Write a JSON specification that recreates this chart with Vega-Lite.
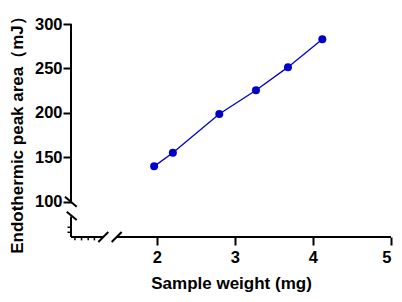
{
  "$schema": "https://vega.github.io/schema/vega-lite/v6.json",
  "width": 320,
  "height": 213,
  "autosize": "none",
  "padding": {"left": 71, "top": 24, "right": 11, "bottom": 65},
  "config": {
    "view": {"stroke": null},
    "font": "Liberation Sans",
    "axis": {"grid": false, "labelFont": "Liberation Sans", "titleFont": "Liberation Sans", "labelFontWeight": "bold", "titleFontWeight": "bold", "labelColor": "#000", "titleColor": "#000", "labelFontSize": 16.5, "titleFontSize": 17}
  },
  "datasets": {
    "pts": [
      {"w": 1.965, "a": 139.6},
      {"w": 2.205, "a": 155.0},
      {"w": 2.8, "a": 198.7},
      {"w": 3.27, "a": 225.4},
      {"w": 3.68, "a": 251.4},
      {"w": 4.12, "a": 282.7}
    ],
    "segs": [
      {"x": 0.9, "x2": 0.9, "y": 100, "y2": 300},
      {"x": 0.9, "x2": 0.9, "y": 60, "y2": 83},
      {"x": 0.9, "x2": 1.31, "y": 60, "y2": 60},
      {"x": 1.477, "x2": 5, "y": 60, "y2": 60},
      {"x": 0.823, "x2": 0.973, "y": 105.4, "y2": 94.1},
      {"x": 0.845, "x2": 0.973, "y": 88.5, "y2": 79.2},
      {"x": 1.25, "x2": 1.378, "y": 54.4, "y2": 65.6},
      {"x": 1.421, "x2": 1.549, "y": 54.4, "y2": 65.6}
    ],
    "minor": [
      {"x": 0.95, "x2": 0.95, "y": 60, "y2": 56.2},
      {"x": 1.035, "x2": 1.035, "y": 60, "y2": 56.2},
      {"x": 1.12, "x2": 1.12, "y": 60, "y2": 56.2},
      {"x": 1.2, "x2": 1.2, "y": 60, "y2": 56.2},
      {"x": 0.9, "x2": 0.855, "y": 71, "y2": 71},
      {"x": 0.9, "x2": 0.855, "y": 65.3, "y2": 65.3}
    ]
  },
  "layer": [
    {
      "data": {"name": "segs"},
      "mark": {"type": "rule", "color": "#000", "strokeWidth": 2, "clip": false},
      "encoding": {
        "x": {"field": "x", "type": "quantitative"},
        "x2": {"field": "x2"},
        "y": {"field": "y", "type": "quantitative"},
        "y2": {"field": "y2"}
      }
    },
    {
      "data": {"name": "minor"},
      "mark": {"type": "rule", "color": "#000", "strokeWidth": 1.5, "clip": false},
      "encoding": {
        "x": {"field": "x", "type": "quantitative"},
        "x2": {"field": "x2"},
        "y": {"field": "y", "type": "quantitative"},
        "y2": {"field": "y2"}
      }
    },
    {
      "data": {"name": "pts"},
      "mark": {"type": "line", "color": "#0000c8", "strokeWidth": 1.3},
      "encoding": {
        "x": {"field": "w", "type": "quantitative"},
        "y": {"field": "a", "type": "quantitative"}
      }
    },
    {
      "data": {"name": "pts"},
      "mark": {"type": "point", "filled": true, "opacity": 1, "color": "#0000c8", "size": 64},
      "encoding": {
        "x": {"field": "w", "type": "quantitative", "scale": {"domain": [0.9, 5], "nice": false, "zero": false},
          "axis": {"values": [2, 3, 4, 5], "format": "d", "title": "Sample weight (mg)", "domain": false, "tickColor": "#000", "tickSize": 8, "tickWidth": 2, "labelPadding": 4, "titlePadding": 10}},
        "y": {"field": "a", "type": "quantitative", "scale": {"domain": [60, 300], "nice": false, "zero": false},
          "axis": {"values": [100, 150, 200, 250, 300], "title": "Endothermic peak area（mJ）", "domain": false, "tickColor": "#000", "tickSize": 8, "tickWidth": 2, "labelPadding": 1, "titlePadding": 8}}
      }
    }
  ]
}
